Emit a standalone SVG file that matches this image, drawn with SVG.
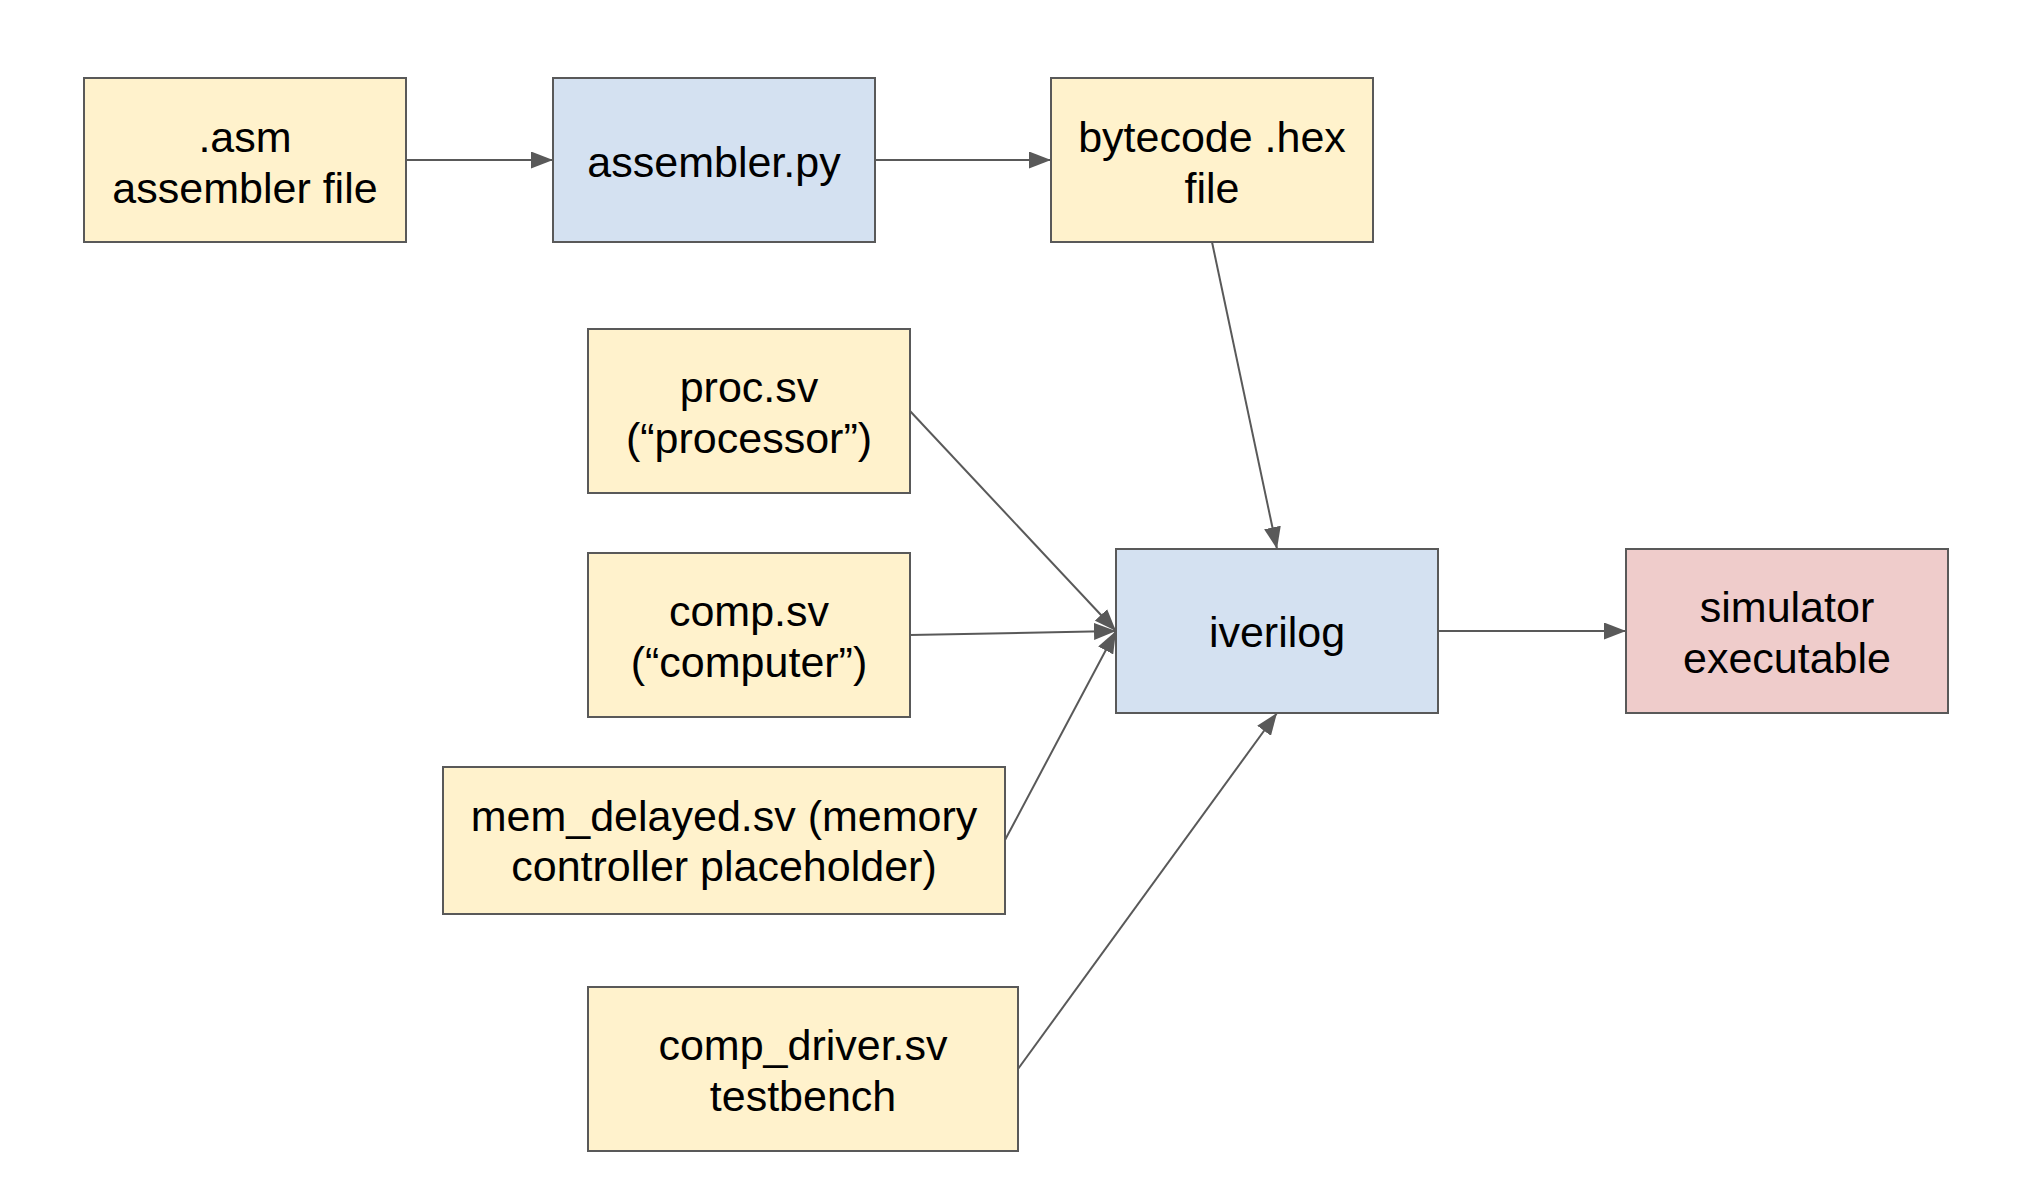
<svg xmlns="http://www.w3.org/2000/svg" width="2030" height="1196" viewBox="0 0 2030 1196">
<defs>
<style>
.box{stroke:#595959;stroke-width:2}
.y{fill:#fff2cc}
.b{fill:#d4e1f1}
.p{fill:#efcccb}
text{font-family:"Liberation Sans",Arial,sans-serif;font-size:43px;fill:#000;text-anchor:middle}
.c line{stroke:#595959;stroke-width:2;marker-end:url(#ah)}
</style>
<marker id="ah" markerUnits="userSpaceOnUse" markerWidth="22" markerHeight="17" refX="22" refY="8.5" orient="auto">
<path d="M0,0 L22,8.5 L0,17 z" fill="#595959"/>
</marker>
</defs>
<rect width="2030" height="1196" fill="#fff"/>
<g id="connectors" class="c">
<line x1="406" y1="160" x2="553" y2="160"/>
<line x1="875" y1="160" x2="1051" y2="160"/>
<line x1="1212" y1="242" x2="1277" y2="549"/>
<line x1="910" y1="411" x2="1116" y2="631"/>
<line x1="910" y1="635" x2="1116" y2="631"/>
<line x1="1005" y1="840" x2="1116" y2="631"/>
<line x1="1018" y1="1069" x2="1277" y2="713"/>
<line x1="1438" y1="631" x2="1626" y2="631"/>
</g>
<g id="asm">
<rect class="box y" x="84" y="78" width="322" height="164"/>
<text x="245" y="152">.asm</text>
<text x="245" y="203">assembler file</text>
</g>
<g id="assembler">
<rect class="box b" x="553" y="78" width="322" height="164"/>
<text x="714" y="177">assembler.py</text>
</g>
<g id="hex">
<rect class="box y" x="1051" y="78" width="322" height="164"/>
<text x="1212" y="152">bytecode .hex</text>
<text x="1212" y="203">file</text>
</g>
<g id="proc">
<rect class="box y" x="588" y="329" width="322" height="164"/>
<text x="749" y="402">proc.sv</text>
<text x="749" y="453">(“processor”)</text>
</g>
<g id="comp">
<rect class="box y" x="588" y="553" width="322" height="164"/>
<text x="749" y="626">comp.sv</text>
<text x="749" y="677">(“computer”)</text>
</g>
<g id="mem">
<rect class="box y" x="443" y="767" width="562" height="147"/>
<text x="724" y="831">mem_delayed.sv (memory</text>
<text x="724" y="881">controller placeholder)</text>
</g>
<g id="driver">
<rect class="box y" x="588" y="987" width="430" height="164"/>
<text x="803" y="1060">comp_driver.sv</text>
<text x="803" y="1111">testbench</text>
</g>
<g id="iverilog">
<rect class="box b" x="1116" y="549" width="322" height="164"/>
<text x="1277" y="647">iverilog</text>
</g>
<g id="simulator">
<rect class="box p" x="1626" y="549" width="322" height="164"/>
<text x="1787" y="622">simulator</text>
<text x="1787" y="673">executable</text>
</g>
</svg>
